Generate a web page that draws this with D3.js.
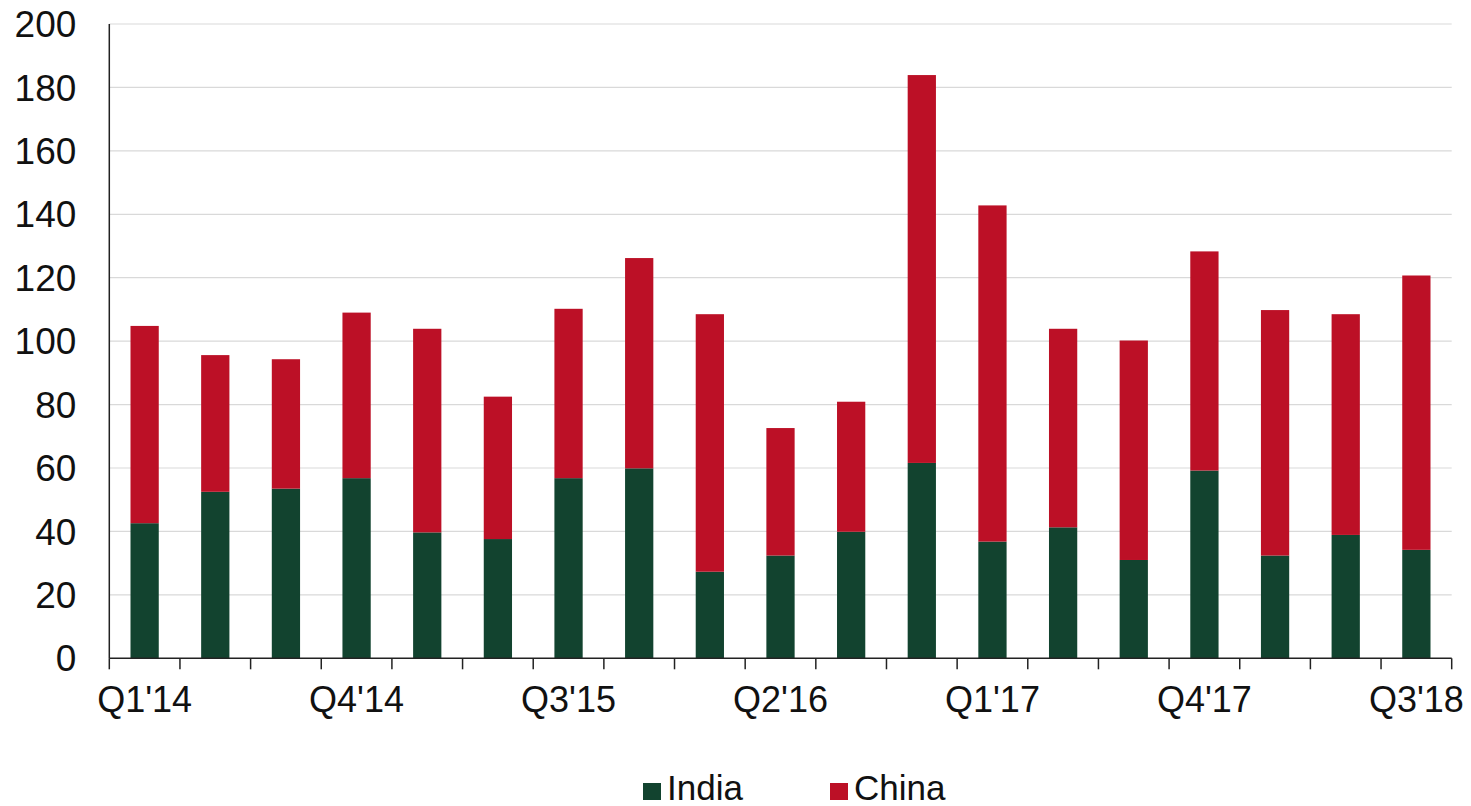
<!DOCTYPE html>
<html>
<head>
<meta charset="utf-8">
<script src="https://cdn.jsdelivr.net/npm/d3@7"></script>
<style>
  html, body { margin: 0; padding: 0; background: #fff; }
  svg { display: block; font-family: "Liberation Sans", Arial, sans-serif; }
</style>
</head>
<body>
<svg id="chart" width="1471" height="806"></svg>
<script>
// Quarterly values, stacked: India at the bottom, China on top
const quarters = ["Q1'14","Q2'14","Q3'14","Q4'14","Q1'15","Q2'15","Q3'15","Q4'15",
                  "Q1'16","Q2'16","Q3'16","Q4'16","Q1'17","Q2'17","Q3'17","Q4'17",
                  "Q1'18","Q2'18","Q3'18"];
const india = [42.6, 52.5, 53.5, 56.8, 39.7, 37.6, 56.8, 59.9, 27.3, 32.4, 39.9, 61.6,
               36.8, 41.3, 31.0, 59.2, 32.4, 38.9, 34.2];
const totals = [104.8, 95.6, 94.3, 109.0, 103.9, 82.5, 110.2, 126.2, 108.5, 72.6, 80.9, 183.9,
                142.8, 103.9, 100.2, 128.3, 109.8, 108.5, 120.7];
const china = totals.map((t, i) => +(t - india[i]).toFixed(1));
const yTicks = [0, 20, 40, 60, 80, 100, 120, 140, 160, 180, 200];
const shownQuarters = ["Q1'14","Q4'14","Q3'15","Q2'16","Q1'17","Q4'17","Q3'18"];
const seriesNames = ["India", "China"];
const seriesColors = ["#12432f", "#bc1026"];

const svg = d3.select("#chart");
const plotLeft = 109.3, plotRight = 1451.7, plotTop = 24, plotBottom = 658.3;

const x = d3.scaleBand().domain(quarters).range([plotLeft, plotRight]).paddingInner(0.6).paddingOuter(0.3);
const xOuter = d3.scaleBand().domain(quarters).range([plotLeft, plotRight]);
const y = d3.scaleLinear().domain([0, 200]).range([plotBottom, plotTop]);

// Horizontal gridlines
svg.append("g")
  .selectAll("line")
  .data(yTicks.filter(d => d > 0))
  .join("line")
  .attr("x1", plotLeft).attr("x2", plotRight)
  .attr("y1", d => y(d)).attr("y2", d => y(d))
  .attr("stroke", "#d9d9d9").attr("stroke-width", 1.2);

// Stacked bars
const rows = quarters.map((q, i) => ({ quarter: q, India: india[i], China: china[i] }));
const stacked = d3.stack().keys(seriesNames)(rows);
const color = d3.scaleOrdinal().domain(seriesNames).range(seriesColors);

svg.append("g")
  .selectAll("g")
  .data(stacked)
  .join("g")
  .attr("fill", d => color(d.key))
  .selectAll("rect")
  .data(d => d)
  .join("rect")
  .attr("x", d => x(d.data.quarter))
  .attr("width", x.bandwidth())
  .attr("y", d => y(d[1]))
  .attr("height", d => y(d[0]) - y(d[1]));

// Y axis: labels only plus the vertical line
const yAxis = d3.axisLeft(y).tickValues(yTicks).tickSize(0).tickPadding(0).tickFormat(d3.format("d"));
const gy = svg.append("g").attr("transform", `translate(${plotLeft},0)`).call(yAxis);
gy.select(".domain").remove();
gy.selectAll("text")
  .attr("x", -33)
  .attr("dy", "0.34em")
  .attr("font-size", 37)
  .attr("font-family", "Liberation Sans, Arial, sans-serif")
  .attr("fill", "#111");

svg.append("line")
  .attr("x1", plotLeft).attr("x2", plotLeft)
  .attr("y1", plotTop).attr("y2", plotBottom)
  .attr("stroke", "#222").attr("stroke-width", 1.5);

// X axis: baseline, boundary ticks, and every third quarter labelled
svg.append("line")
  .attr("x1", plotLeft).attr("x2", plotRight)
  .attr("y1", plotBottom).attr("y2", plotBottom)
  .attr("stroke", "#222").attr("stroke-width", 1.5);

const boundaries = quarters.map(q => xOuter(q)).concat([plotRight]);
svg.append("g")
  .selectAll("line")
  .data(boundaries)
  .join("line")
  .attr("x1", d => d).attr("x2", d => d)
  .attr("y1", plotBottom).attr("y2", plotBottom + 11)
  .attr("stroke", "#222").attr("stroke-width", 1.5);

svg.append("g")
  .selectAll("text")
  .data(shownQuarters)
  .join("text")
  .attr("x", d => x(d) + x.bandwidth() / 2)
  .attr("y", 712)
  .attr("text-anchor", "middle")
  .attr("font-size", 36)
  .attr("fill", "#111")
  .text(d => d);

// Legend
const legend = svg.append("g");
const legendItems = [{ name: "India", x: 643 }, { name: "China", x: 830 }];
legendItems.forEach((item, i) => {
  legend.append("rect")
    .attr("x", item.x).attr("y", 783)
    .attr("width", 18).attr("height", 17)
    .attr("fill", seriesColors[i]);
  legend.append("text")
    .attr("x", item.x + 24).attr("y", 800)
    .attr("font-size", 35)
    .attr("fill", "#111")
    .text(item.name);
});
</script>
</body>
</html>
